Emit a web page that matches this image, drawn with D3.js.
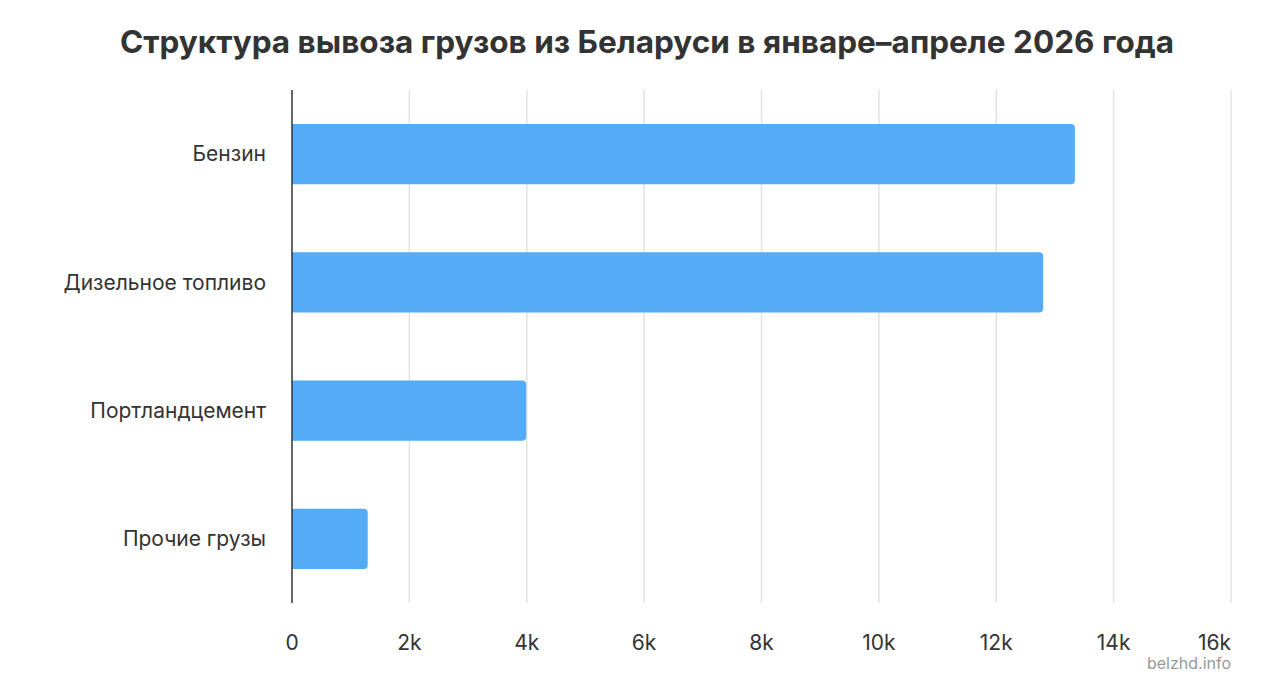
<!DOCTYPE html>
<html>
<head>
    <script src="https://d3js.org/d3.v7.min.js"></script>
    <style>
        body { margin: 0; background: #fff; }
        svg { font-family: Inter, "Noto Sans", sans-serif; }
    </style>
</head>
<body>
<svg id="chart"></svg>
<script>
    // data (thousand tonnes)
    const categories = ['Бензин', 'Дизельное топливо', 'Портландцемент', 'Прочие грузы'];
    const values = [13.34, 12.8, 3.99, 1.29];
    const ticks = [0, 2, 4, 6, 8, 10, 12, 14, 16];
    const tickLabels = ['0', '2k', '4k', '6k', '8k', '10k', '12k', '14k', '16k'];

    const W = 1280, H = 687;
    const svg = d3.select('#chart').attr('width', W).attr('height', H);

    const x = d3.scaleLinear().domain([0, 16]).range([292, 1231]);
    const y = d3.scaleBand().domain(categories).range([90, 603])
                .paddingInner(0.53).paddingOuter(0.265);

    // title
    svg.append('text')
       .attr('x', 647).attr('y', 53)
       .attr('text-anchor', 'middle')
       .attr('font-size', 31.5).attr('font-weight', 700)
       .attr('fill', '#333')
       .text('Структура вывоза грузов из Беларуси в январе–апреле 2026 года');

    // grid
    svg.append('g').selectAll('line')
       .data(ticks.slice(1))
       .join('line')
       .attr('x1', d => x(d)).attr('x2', d => x(d))
       .attr('y1', 90).attr('y2', 603)
       .attr('stroke', '#e2e2e2').attr('stroke-width', 1.5);

    // bars, rounded on the right end only
    const r = 4;
    svg.append('g').selectAll('path')
       .data(categories)
       .join('path')
       .attr('fill', '#56abf6')
       .attr('d', (c, i) => {
           const x0 = x(0), x1 = x(values[i]), y0 = y(c), y1 = y(c) + y.bandwidth();
           const p = d3.path();
           p.moveTo(x0, y0);
           p.lineTo(x1 - r, y0);
           p.arcTo(x1, y0, x1, y0 + r, r);
           p.lineTo(x1, y1 - r);
           p.arcTo(x1, y1, x1 - r, y1, r);
           p.lineTo(x0, y1);
           p.closePath();
           return p.toString();
       });

    // zero axis line
    svg.append('line')
       .attr('x1', x(0)).attr('x2', x(0))
       .attr('y1', 90).attr('y2', 603)
       .attr('stroke', '#333').attr('stroke-width', 1.5);

    // category labels
    svg.append('g').selectAll('text')
       .data(categories)
       .join('text')
       .attr('x', 266)
       .attr('y', c => y(c) + y.bandwidth() / 2)
       .attr('dy', '0.35em')
       .attr('text-anchor', 'end')
       .attr('font-size', 21)
       .attr('fill', '#333')
       .text(c => c);

    // x tick labels (the last one is kept inside the plot)
    const last = ticks.length - 1;
    svg.append('g').selectAll('text')
       .data(ticks)
       .join('text')
       .attr('x', d => x(d))
       .attr('y', 650)
       .attr('text-anchor', (d, i) => i === last ? 'end' : 'middle')
       .attr('font-size', 21)
       .attr('fill', '#333')
       .text((d, i) => tickLabels[i]);

    // source
    svg.append('text')
       .attr('x', 1231).attr('y', 669)
       .attr('text-anchor', 'end')
       .attr('font-size', 16)
       .attr('fill', '#999')
       .text('belzhd.info');
</script>
</body>
</html>
